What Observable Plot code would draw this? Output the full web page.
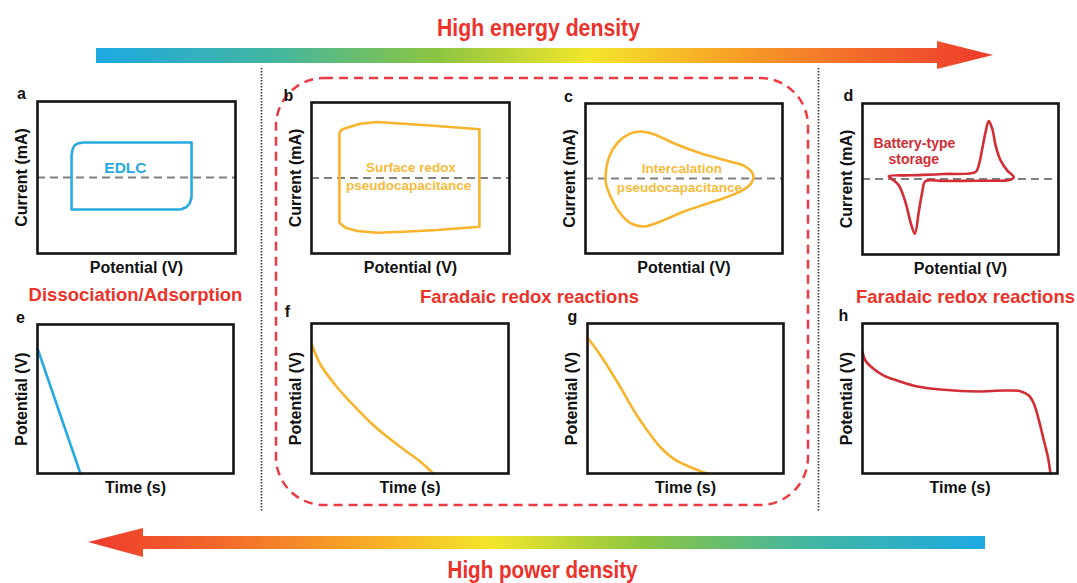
<!DOCTYPE html>
<html><head><meta charset="utf-8">
<script src="https://cdn.jsdelivr.net/npm/d3@7"></script>
<script src="https://cdn.jsdelivr.net/npm/@observablehq/plot@0.6"></script>
<style>
body{margin:0;background:#fff}
#wrap{position:relative;width:1077px;height:583px;overflow:hidden;background:#fff}
</style>
</head><body><div id="wrap"></div>
<script>
// ---------- DATA ----------
// CV curves: [potential (0..1), current (-1..1)]
const edlcCV = [[0.172,-0.421],[0.172,0.289],[0.177,0.368],[0.187,0.421],[0.202,0.447],[0.232,0.461],[0.778,0.461],[0.778,-0.263],[0.768,-0.342],[0.753,-0.388],[0.727,-0.417],[0.707,-0.421]];
const surfaceCV = [[0.141,0.580],[0.146,0.625],[0.160,0.650],[0.180,0.666],[0.247,0.719],[0.332,0.742],[0.466,0.719],[0.635,0.689],[0.848,0.645],[0.848,-0.645],[0.635,-0.689],[0.466,-0.711],[0.332,-0.725],[0.231,-0.702],[0.172,-0.658],[0.141,-0.592]];
const intercalationCV = [[0.102,0.027],[0.118,0.271],[0.161,0.471],[0.220,0.591],[0.279,0.627],[0.347,0.591],[0.448,0.471],[0.584,0.337],[0.719,0.236],[0.812,0.16],[0.851,0.049],[0.841,-0.063],[0.787,-0.173],[0.651,-0.307],[0.499,-0.44],[0.381,-0.573],[0.296,-0.64],[0.228,-0.596],[0.169,-0.44],[0.127,-0.24],[0.105,-0.084]];
const batteryCV = [[0.134,0.036],[0.245,0.049],[0.415,0.066],[0.577,0.093],[0.593,0.181],[0.611,0.401],[0.628,0.623],[0.644,0.768],[0.662,0.666],[0.679,0.446],[0.704,0.248],[0.738,0.115],[0.772,0.026],[0.755,-0.009],[0.585,-0.023],[0.415,-0.026],[0.321,-0.03],[0.305,-0.172],[0.287,-0.437],[0.267,-0.725],[0.245,-0.57],[0.219,-0.305],[0.185,-0.083],[0.152,-0.004]];
// Discharge curves: [time (0..1), potential (0..1)]
const edlcGCD = [[0,0.839],[0.219,0]];
const surfaceGCD = [[0,0.867],[0.046,0.725],[0.130,0.575],[0.215,0.452],[0.299,0.340],[0.384,0.245],[0.469,0.160],[0.553,0.078],[0.618,0.0]];
const intercalationGCD = [[0,0.905],[0.049,0.82],[0.100,0.72],[0.168,0.575],[0.236,0.42],[0.305,0.287],[0.372,0.175],[0.440,0.098],[0.526,0.042],[0.611,0.0]];
const batteryGCD = [[0,0.809],[0.015,0.753],[0.050,0.705],[0.109,0.653],[0.178,0.62],[0.281,0.58],[0.417,0.558],[0.588,0.547],[0.725,0.553],[0.81,0.549],[0.853,0.52],[0.879,0.465],[0.905,0.353],[0.930,0.22],[0.951,0.109],[0.964,0.0]];

// Texts
const panelLetters = ["a","b","c","d","e","f","g","h"];
const cvXLabel = "Potential (V)", cvYLabel = "Current (mA)";
const gcdXLabel = "Time (s)", gcdYLabel = "Potential (V)";
const edlcNote = [{x:0.444,y:0.13,t:"EDLC"}];
const surfaceNote = [{x:0.503,y:0.136,t:"Surface redox"},{x:0.49,y:-0.097,t:"pseudocapacitance"}];
const intercalationNote = [{x:0.489,y:0.129,t:"Intercalation"},{x:0.476,y:-0.12,t:"pseudocapacitance"}];
const batteryNote = [{x:0.265,y:0.468,t:"Battery-type"},{x:0.262,y:0.256,t:"storage"}];
const headings = ["High energy density","High power density"];
const mechanisms = ["Dissociation/Adsorption","Faradaic redox reactions","Faradaic redox reactions"];
const gradientColors = ["#1ea9e2","#43b6a0","#8cc541","#f3e62b","#f8a526","#f26a2b","#ee3a2c"];
const gradientStops = [0,0.2,0.38,0.55,0.7,0.85,1];

// ---------- LAYOUT ----------
const frames = {
  a:{left:37,top:101,w:198,h:152}, b:{left:311,top:102,w:198,h:151},
  c:{left:585,top:103,w:197,h:150}, d:{left:862,top:103,w:196,h:151},
  e:{left:37,top:324,w:196,h:149}, f:{left:311,top:323,w:197,h:150},
  g:{left:587,top:323,w:196,h:150}, h:{left:862,top:323,w:195,h:150}
};
const letterOffset = {a:[-16,-8],b:[-23,-7],c:[-17,-7],d:[-14,-8],e:[-17,-7],f:[-24,-12],g:[-15,-7],h:[-19,-8]};
const C_BLUE="#27aae1", C_YEL="#f8b42c", C_RED="#d22d35", C_HEAD="#ec3229";
const FONT = "'Liberation Sans', Arial, sans-serif";
const headingWidths = [203, 190];

const wrap = document.getElementById("wrap");
const toXY = arr => arr.map(([x,y]) => ({x,y}));

// ---------- BACKGROUND (arrows, dividers, box, headings) ----------
const deco = {
  box:[{x1:276,x2:808,y1:78,y2:505}],
  dividers:[{x:261,y1:68,y2:512},{x:818,y1:68,y2:512}],
  topBar:[{x1:96,x2:940,y1:48,y2:63}],
  topHead:[{x:937,y1:41,y2:69},{x:993,y1:55,y2:55}],
  botBar:[{x1:140,x2:985,y1:536,y2:549}],
  botHead:[{x:88,y1:542,y2:542},{x:143,y1:528,y2:557}],
  headPos:[[538,28],[542,570]],
  mechPos:[[135,295],[529,297],[965,297]]
};
const bg = Plot.plot({
  width:1077, height:583, margin:0,
  x:{domain:[0,1077], range:[0,1077], axis:null},
  y:{domain:[0,583], range:[0,583], axis:null},
  style:{background:"transparent", overflow:"visible", fontFamily:FONT},
  marks:[
    Plot.rect(deco.box,{x1:"x1",x2:"x2",y1:"y1",y2:"y2",rx:48,ry:48,fill:"none",stroke:"#ec3b43",strokeWidth:2.5,strokeDasharray:"9,6"}),
    Plot.ruleX(deco.dividers,{x:"x",y1:"y1",y2:"y2",stroke:"#3a3a3a",strokeWidth:1.7,strokeDasharray:"1.6,1.4"}),
    Plot.rect(deco.topBar,{x1:"x1",x2:"x2",y1:"y1",y2:"y2",fill:"url(#gradTop)"}),
    Plot.areaY(deco.topHead,{x:"x",y1:"y1",y2:"y2",fill:"url(#gradTop)"}),
    Plot.rect(deco.botBar,{x1:"x1",x2:"x2",y1:"y1",y2:"y2",fill:"url(#gradBot)"}),
    Plot.areaY(deco.botHead,{x:"x",y1:"y1",y2:"y2",fill:"url(#gradBot)"}),
    Plot.text(headings.map((t,i)=>({t,x:deco.headPos[i][0],y:deco.headPos[i][1]})),{x:"x",y:"y",text:"t",fill:C_HEAD,fontSize:24,fontWeight:"bold",textAnchor:"middle",lineAnchor:"middle"}),
    Plot.text(mechanisms.map((t,i)=>({t,x:deco.mechPos[i][0],y:deco.mechPos[i][1]})),{x:"x",y:"y",text:"t",fill:C_HEAD,fontSize:18.5,fontWeight:"bold",textAnchor:"middle",lineAnchor:"middle"})
  ]
});
// condense the two headings like the narrow typeface of the reference
d3.select(bg).selectAll("text").each(function(){
  const i = headings.indexOf(this.textContent);
  if (i >= 0) { this.setAttribute("textLength", headingWidths[i]); this.setAttribute("lengthAdjust","spacingAndGlyphs"); }
});
// gradients
const defs = d3.select(bg).insert("defs",":first-child");
function addGrad(id,x1,x2){
  const g = defs.append("linearGradient").attr("id",id).attr("gradientUnits","userSpaceOnUse")
    .attr("x1",x1).attr("x2",x2).attr("y1",0).attr("y2",0);
  gradientColors.forEach((c,i)=>g.append("stop").attr("offset",gradientStops[i]).attr("stop-color",c));
}
addGrad("gradTop",96,993);
addGrad("gradBot",985,88);
bg.style.position="absolute"; bg.style.left="0px"; bg.style.top="0px";
wrap.append(bg);

// ---------- PANELS ----------
function panel(key, curve, curveType, color, ydom, xLabel, yLabel, notes, noteSize, dashed){
  const f = frames[key];
  const m = {l:44,t:22,r:14,b:30};
  const marks = [];
  if (dashed) marks.push(Plot.ruleY([0],{stroke:"#808080",strokeWidth:2,strokeDasharray:"8,5"}));
  marks.push(Plot.line(toXY(curve),{x:"x",y:"y",stroke:color,strokeWidth:2.6,curve:curveType,strokeLinejoin:"round"}));
  if (notes) marks.push(Plot.text(notes,{x:"x",y:"y",text:"t",fill:color===C_YEL?"#f7bb3a":color,fontSize:noteSize,fontWeight:"bold",textAnchor:"middle",lineAnchor:"middle"}));
  marks.push(Plot.frame({stroke:"#141414",strokeWidth:2.6}));
  marks.push(Plot.text([xLabel],{text:d=>d,frameAnchor:"bottom",dy:14,fontSize:16,fontWeight:"bold",fill:"#111",textAnchor:"middle",lineAnchor:"middle"}));
  marks.push(Plot.text([yLabel],{text:d=>d,frameAnchor:"left",dx:-16,rotate:-90,fontSize:16,fontWeight:"bold",fill:"#111",textAnchor:"middle",lineAnchor:"middle"}));
  const lo = letterOffset[key];
  marks.push(Plot.text([key],{text:d=>d,frameAnchor:"top-left",dx:lo[0],dy:lo[1],fontSize:16,fontWeight:"bold",fill:"#111",textAnchor:"middle",lineAnchor:"middle"}));
  const p = Plot.plot({
    width:f.w+m.l+m.r, height:f.h+m.t+m.b,
    marginLeft:m.l, marginTop:m.t, marginRight:m.r, marginBottom:m.b,
    x:{domain:[0,1],axis:null}, y:{domain:ydom,axis:null},
    style:{background:"transparent",overflow:"visible",fontFamily:FONT},
    marks
  });
  p.style.position="absolute"; p.style.left=(f.left-m.l)+"px"; p.style.top=(f.top-m.t)+"px";
  wrap.append(p);
}
panel("a", edlcCV, "linear-closed", C_BLUE, [-1,1], cvXLabel, cvYLabel, edlcNote, 15.5, true);
panel("b", surfaceCV, "linear-closed", C_YEL, [-1,1], cvXLabel, cvYLabel, surfaceNote, 13.5, true);
panel("c", intercalationCV, "catmull-rom-closed", C_YEL, [-1,1], cvXLabel, cvYLabel, intercalationNote, 13.5, true);
panel("d", batteryCV, "catmull-rom-closed", C_RED, [-1,1], cvXLabel, cvYLabel, batteryNote, 14, true);
panel("e", edlcGCD, "linear", C_BLUE, [0,1], gcdXLabel, gcdYLabel, null, 0, false);
panel("f", surfaceGCD, "catmull-rom", C_YEL, [0,1], gcdXLabel, gcdYLabel, null, 0, false);
panel("g", intercalationGCD, "catmull-rom", C_YEL, [0,1], gcdXLabel, gcdYLabel, null, 0, false);
panel("h", batteryGCD, "catmull-rom", C_RED, [0,1], gcdXLabel, gcdYLabel, null, 0, false);
</script></body></html>
